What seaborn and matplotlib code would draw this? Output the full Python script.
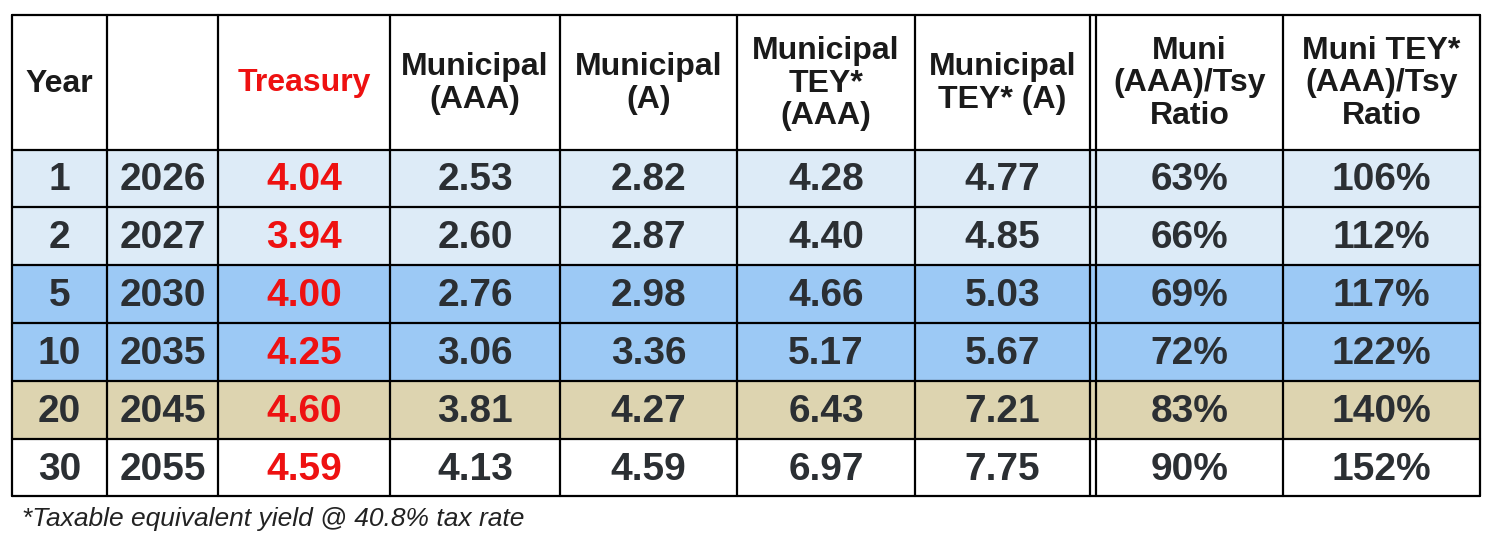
import matplotlib
matplotlib.use('Agg')
import matplotlib.pyplot as plt
import seaborn as sns
from matplotlib.patches import Rectangle

sns.set_style('white')
plt.rcParams['font.family'] = ['Liberation Sans', 'DejaVu Sans']

# Table data
headers = ['Year', '', 'Treasury', 'Municipal\n(AAA)', 'Municipal\n(A)',
           'Municipal\nTEY*\n(AAA)', 'Municipal\nTEY* (A)',
           'Muni\n(AAA)/Tsy\nRatio', 'Muni TEY*\n(AAA)/Tsy\nRatio']
years = ['1', '2', '5', '10', '20', '30']
cal_years = ['2026', '2027', '2030', '2035', '2045', '2055']
treasury = ['4.04', '3.94', '4.00', '4.25', '4.60', '4.59']
muni_aaa = ['2.53', '2.60', '2.76', '3.06', '3.81', '4.13']
muni_a = ['2.82', '2.87', '2.98', '3.36', '4.27', '4.59']
tey_aaa = ['4.28', '4.40', '4.66', '5.17', '6.43', '6.97']
tey_a = ['4.77', '4.85', '5.03', '5.67', '7.21', '7.75']
ratio = ['63%', '66%', '69%', '72%', '83%', '90%']
tey_ratio = ['106%', '112%', '117%', '122%', '140%', '152%']
row_colors = ['#DDEBF7', '#DDEBF7', '#9CC9F5', '#9CC9F5', '#DDD4B0', '#FFFFFF']
footnote = '*Taxable equivalent yield @ 40.8% tax rate'

columns = [years, cal_years, treasury, muni_aaa, muni_a, tey_aaa, tey_a, ratio, tey_ratio]

# layout (pixel coordinates)
xs = [12, 107, 218, 390, 560, 737, 915, 1090, 1283, 1480]
ys = [15, 150, 207, 265, 323, 381, 439, 496]

fig = plt.figure(figsize=(14.91, 5.45), dpi=100)
ax = fig.add_axes([0, 0, 1, 1])
ax.set_xlim(0, 1491)
ax.set_ylim(545, 0)
ax.axis('off')

for r, color in enumerate(row_colors):
    ax.add_patch(Rectangle((xs[0], ys[r + 1]), xs[-1] - xs[0], ys[r + 2] - ys[r + 1],
                           facecolor=color, edgecolor='none'))

for x in xs:
    ax.plot([x, x], [ys[0], ys[-1]], color='black', lw=1.6)
ax.plot([1096, 1096], [ys[0], ys[-1]], color='black', lw=1.6)
for y in ys:
    ax.plot([xs[0], xs[-1]], [y, y], color='black', lw=1.6)

for c, h in enumerate(headers):
    cx = (xs[c] + xs[c + 1]) / 2
    if c == 7:
        cx += 3
    ax.text(cx, (ys[0] + ys[1]) / 2 + 1, h, ha='center', va='center', fontsize=23,
            fontweight='bold', linespacing=1.12,
            color='#EE1111' if c == 2 else '#1A1A1A')

for c, col in enumerate(columns):
    cx = (xs[c] + xs[c + 1]) / 2
    if c == 7:
        cx += 3
    for r, val in enumerate(col):
        ax.text(cx, (ys[r + 1] + ys[r + 2]) / 2 + 2, val, ha='center', va='center',
                fontsize=28, fontweight='bold',
                color='#EE1111' if c == 2 else '#2B2F33')

ax.text(22, 519, footnote, ha='left', va='center', fontsize=19, style='italic', color='#222222')

fig.savefig('out.png', dpi=100)
